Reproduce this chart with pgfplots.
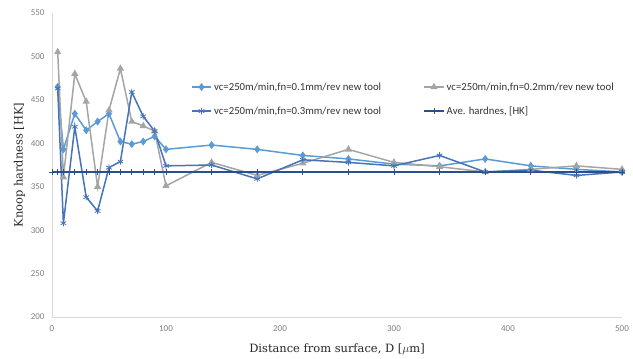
\documentclass[border=0pt]{standalone}
\usepackage{fontspec}
\setmainfont{DejaVu Serif}
\newfontfamily\carlito{Carlito}
\usepackage{pgfplots}
\pgfplotsset{compat=1.18}
\definecolor{sA}{HTML}{5B9BD5}
\definecolor{sB}{HTML}{A5A5A5}
\definecolor{sC}{HTML}{4673B9}
\definecolor{sD}{HTML}{2B4F8A}
\definecolor{axgray}{HTML}{D9D9D9}
\definecolor{tickgray}{HTML}{7F7F7F}
\begin{document}
\begin{tikzpicture}
\begin{axis}[
  scale only axis, width=570bp, height=304bp,
  xmin=0, xmax=500, ymin=200, ymax=550,
  xtick={0,100,...,500}, ytick={200,250,...,550},
  axis x line*=bottom, axis y line*=left,
  axis line style={axgray, line width=0.8bp, -},
  major tick length=0pt,
  /pgf/number format/assume math mode=true,
  tick label style={font=\carlito\fontsize{9}{10}\selectfont, text=tickgray},
  xticklabel style={yshift=-5bp},
  yticklabel style={xshift=-4bp},
  xlabel={Distance from surface, D [$\mu$m]},
  ylabel={Knoop hardness [HK]},
  label style={font=\fontsize{11.5}{13}\selectfont, text=black!85},
  xlabel style={yshift=-6bp},
  ylabel style={yshift=-1bp},
  legend columns=2,
  legend style={draw=none, fill=none, at={(0.238,0.785)}, anchor=north west,
    font=\carlito\fontsize{10.8}{12}\selectfont, text=black!80,
    /tikz/every even column/.append style={column sep=40bp},
    row sep=11bp},
  legend cell align=left,
  legend image code/.code={\draw[mark repeat=2,mark phase=2] plot coordinates {(0cm,0cm)(0.35cm,0cm)(0.7cm,0cm)};},
  every axis plot/.append style={line width=1.5bp},
]
\addplot[color=sA, mark=diamond*, mark size=2.8bp, mark options={fill=sA, solid}] coordinates {
(5,465)(10,393)(20,434)(30,415)(40,425)(50,434)(60,402)(70,399)(80,402)(90,408)(100,393)
(140,398)(180,393)(220,386)(260,382)(300,376)(340,374)(380,382)(420,374)(460,370)(500,367)};
\addlegendentry{vc=250m/min,fn=0.1mm/rev new tool}
\addplot[color=sB, mark=triangle*, mark size=2.8bp, mark options={fill=sB, solid}] coordinates {
(5,505)(10,361)(20,480)(30,448)(40,350)(50,438)(60,486)(70,425)(80,420)(90,414)(100,351)
(140,378)(180,363)(220,377)(260,393)(300,378)(340,373)(380,367)(420,370)(460,374)(500,370)};
\addlegendentry{vc=250m/min,fn=0.2mm/rev new tool}
\addplot[color=sC, mark=asterisk, mark size=3.2bp, mark options={line width=0.8bp, solid}] coordinates {
(5,463)(10,308)(20,419)(30,338)(40,322)(50,372)(60,379)(70,459)(80,431)(90,414)(100,374)
(140,375)(180,359)(220,381)(260,378)(300,374)(340,386)(380,367)(420,369)(460,363)(500,367)};
\addlegendentry{vc=250m/min,fn=0.3mm/rev new tool}
\addplot[color=sD, line width=1.7bp, mark=+, mark size=3.2bp, mark options={line width=0.8bp, solid}] coordinates {
(0,367)(5,367)(10,367)(20,367)(30,367)(40,367)(50,367)(60,367)(70,367)(80,367)(90,367)(100,367)
(140,367)(180,367)(220,367)(260,367)(300,367)(340,367)(380,367)(420,367)(460,367)(500,367)};
\addlegendentry{Ave. hardnes, [HK]}
\end{axis}
\pgfresetboundingbox
\path ([shift={(-52bp,-42bp)}]current axis.south west) rectangle ([shift={(11bp,13bp)}]current axis.north east);
\end{tikzpicture}
\end{document}
